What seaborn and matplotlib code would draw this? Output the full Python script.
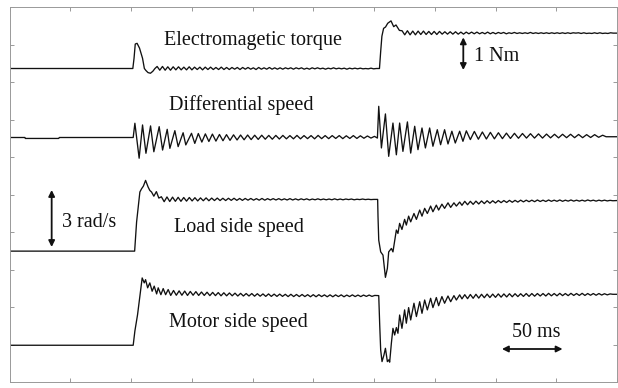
import numpy as np
import pandas as pd
import matplotlib
matplotlib.use("Agg")
import matplotlib.pyplot as plt
import seaborn as sns

# ---------------- data (time in ms, torque in Nm, speeds in rad/s) ----------------
# Electromagnetic torque
torque_t_a = [0.0, 101.5, 102.5, 103.5, 105.0, 107.0, 109.5, 111.0, 112.3, 114.0, 116.0, 118.0, 119.7]
torque_v_a = [0.0, 0.0, 0.30, 0.72, 0.74, 0.60, 0.30, 0.0, -0.06, -0.12, -0.14, -0.08, 0.0]
torque_rip1_start, torque_rip1_step, torque_rip1_level = 121.5, 2.2, 0.0
torque_rip1 = [0.06, -0.05, 0.06, -0.05, 0.05, -0.05, 0.05, -0.04, 0.05, -0.04, 0.04, -0.04, 0.05, -0.04, 0.04, -0.03, 0.04, -0.04, 0.04, -0.03,
               0.04, -0.03, 0.03, -0.03, 0.04, -0.03, 0.03, -0.03, 0.03, -0.02, 0.03, -0.03, 0.03, -0.02, 0.03, -0.02, 0.02, -0.03, 0.03, -0.02,
               0.02, -0.02, 0.03, -0.02, 0.02, -0.02, 0.02, -0.02, 0.02, -0.01, 0.02, -0.02, 0.02, -0.01, 0.02, -0.02, 0.01, -0.02, 0.02, -0.01,
               0.02, -0.01, 0.01, -0.02, 0.01, -0.01, 0.02, -0.01, 0.01, -0.01, 0.01, -0.02, 0.01, -0.01, 0.01, -0.01, 0.01, -0.01, 0.0, -0.01, 0.01, -0.01, 0.0]
torque_t_b = [303.5, 304.5, 305.5, 306.5, 307.9, 309.5, 311.3, 314.0, 316.2, 318.1, 320.9]
torque_v_b = [0.0, 0.0, 0.50, 0.95, 1.18, 1.22, 1.33, 1.40, 1.23, 1.28, 1.12]
torque_rip2_start, torque_rip2_step, torque_rip2_level = 323.1, 2.2, 1.04
torque_rip2 = [0.07, -0.05, 0.07, -0.05, 0.06, -0.05, 0.06, -0.04, 0.06, -0.04, 0.05, -0.04, 0.05, -0.04, 0.05, -0.03, 0.04, -0.03, 0.04, -0.03,
               0.04, -0.03, 0.03, -0.03, 0.03, -0.02, 0.03, -0.02, 0.03, -0.02, 0.02, -0.02, 0.03, -0.02, 0.02, -0.02, 0.02, -0.01, 0.02, -0.02,
               0.01, -0.01, 0.02, -0.01, 0.01, -0.01, 0.01, -0.01, 0.02, -0.01, 0.01, -0.01, 0.01, -0.01, 0.01, -0.01, 0.01, -0.01, 0.01, -0.01,
               0.01, -0.01, 0.01, -0.01, 0.01, 0.0, 0.01, -0.01, 0.01, -0.01, 0.0, -0.01, 0.01, -0.01, 0.01, -0.01, 0.0, -0.01, 0.01, 0.0]
torque_t_end, torque_v_end = [500.0], [1.04]

# Differential speed
diff_t_a = [0.0, 12.7, 13.0, 40.5, 41.0, 101.8, 103.2, 106.7, 109.5, 112.3, 116.1, 118.8, 123.2, 126.0, 129.8, 132.0,
            136.1, 138.8, 142.9, 145.1, 149.8, 152.5]
diff_v_a = [0.0, 0.0, -0.05, -0.05, 0.0, 0.0, 0.75, -1.09, 0.66, -0.83, 0.61, -0.75, 0.57, -0.66, 0.43, -0.57,
            0.36, -0.48, 0.25, -0.39, 0.22, -0.31]
diff_rip1_start, diff_rip1_step, diff_rip1_level = 155.4, 2.9, 0.03
diff_rip1 = [0.18, -0.27, 0.16, -0.24, 0.15, -0.22, 0.13, -0.20, 0.12, -0.18, 0.11, -0.16, 0.10, -0.15, 0.10, -0.14, 0.09, -0.13, 0.09, -0.12,
             0.08, -0.12, 0.08, -0.11, 0.08, -0.10, 0.07, -0.10, 0.08, -0.10, 0.07, -0.09, 0.07, -0.10, 0.08, -0.09, 0.07, -0.09, 0.07, -0.08,
             0.07, -0.09, 0.06, -0.08, 0.07, -0.08, 0.06, -0.07, 0.05, -0.06, 0.03]
diff_t_b = [302.0, 302.8, 303.9, 306.1, 309.4, 312.1, 315.6, 318.4, 321.1, 323.8, 327.5, 330.2, 333.5, 336.2, 339.5, 342.3,
            345.8, 348.5, 352.1, 354.8, 358.1, 360.9, 364.1, 366.9, 370.5, 373.2]
diff_v_b = [0.0, -0.03, 1.64, -0.55, 1.24, -0.99, 0.76, -0.91, 0.76, -0.73, 0.82, -0.82, 0.59, -0.64, 0.50, -0.55,
            0.50, -0.46, 0.41, -0.38, 0.41, -0.34, 0.33, -0.29, 0.33, -0.20]
diff_rip2_start, diff_rip2_step, diff_rip2_level = 376.0, 3.3, 0.07
diff_rip2 = [0.28, -0.18, 0.25, -0.16, 0.22, -0.15, 0.20, -0.14, 0.18, -0.13, 0.16, -0.12, 0.15, -0.11, 0.14, -0.10, 0.13, -0.10, 0.12, -0.10,
             0.11, -0.09, 0.10, -0.09, 0.10, -0.08, 0.10, -0.08, 0.09, -0.08, 0.08, -0.07, 0.08, -0.06, 0.05]
diff_t_end, diff_v_end = [491.0, 500.0], [0.04, 0.04]

# Load side speed
load_t_a = [0.0, 103.0, 104.6, 107.3, 108.7, 110.2, 112.0, 114.1, 115.5, 116.9, 118.8, 120.9, 122.9]
load_v_a = [0.0, 0.0, 1.53, 3.11, 3.28, 3.42, 3.72, 3.37, 3.19, 3.11, 2.89, 3.13, 2.79]
load_rip1_start, load_rip1_step, load_rip1_level = 125.0, 2.3, 2.72
load_rip1 = [0.14, -0.12, 0.13, -0.11, 0.12, -0.10, 0.11, -0.10, 0.10, -0.09, 0.10, -0.08, 0.09, -0.08, 0.08, -0.07, 0.08, -0.07, 0.07, -0.06,
             0.07, -0.06, 0.06, -0.06, 0.06, -0.05, 0.06, -0.05, 0.05, -0.05, 0.05, -0.04, 0.05, -0.04, 0.04, -0.04, 0.05, -0.04, 0.04, -0.03,
             0.04, -0.03, 0.04, -0.03, 0.03, -0.03, 0.04, -0.03, 0.03, -0.03, 0.03, -0.02, 0.03, -0.03, 0.02, -0.02, 0.03, -0.02, 0.02, -0.02,
             0.02, -0.02, 0.03, -0.02, 0.02, -0.02, 0.02, -0.01, 0.02, -0.02, 0.01, -0.01, 0.02, -0.01, 0.01, -0.01, 0.0]
load_t_b = [303.0, 303.3, 303.9, 305.5, 307.4, 309.4, 311.0, 312.1, 314.3, 315.6, 318.4, 319.7, 321.1, 323.0, 325.2, 326.6,
            328.5, 330.2, 332.9, 334.9, 337.6, 339.5, 341.7, 343.9, 346.6, 348.5, 351.3, 353.2, 355.9, 358.1, 360.9, 363.1,
            365.8, 367.8, 370.5, 372.4]
load_v_b = [2.72, 1.81, 0.58, -0.04, -0.21, -1.38, -0.91, -0.04, 0.14, -0.04, 1.11, 0.93, 1.46, 1.14, 1.67, 1.37,
            1.84, 1.54, 1.98, 1.67, 2.16, 1.84, 2.25, 1.98, 2.37, 2.07, 2.42, 2.16, 2.47, 2.25, 2.54, 2.30,
            2.54, 2.37, 2.58, 2.41]
load_rip2_start, load_rip2_step, load_rip2_level = 374.7, 2.3, 0.0
load_rip2 = [2.62, 2.44, 2.62, 2.46, 2.63, 2.48, 2.64, 2.50, 2.65, 2.52, 2.65, 2.53, 2.66, 2.55, 2.66, 2.56, 2.67, 2.57, 2.67, 2.58,
             2.68, 2.59, 2.68, 2.60, 2.68, 2.60, 2.69, 2.61, 2.68, 2.61, 2.69, 2.62, 2.68, 2.62, 2.69, 2.62, 2.68, 2.63, 2.69, 2.63,
             2.68, 2.63, 2.68, 2.63, 2.69, 2.64, 2.68, 2.63, 2.68, 2.64, 2.68, 2.64, 2.67, 2.65]
load_t_end, load_v_end = [500.0], [2.66]

# Motor side speed
motor_t_a = [0.0, 101.8, 103.2, 105.4, 107.3, 109.2, 110.9, 112.0, 113.7, 115.5, 117.4, 119.1, 121.1, 122.4, 124.6, 126.5, 128.5, 130.6]
motor_v_a = [0.0, 0.0, 0.75, 1.61, 2.58, 3.54, 3.28, 3.45, 3.02, 3.28, 2.84, 3.11, 2.70, 3.02, 2.66, 2.98, 2.66, 2.93]
motor_rip1_start, motor_rip1_step, motor_rip1_level = 132.7, 2.3, 0.0
motor_rip1 = [2.62, 2.88, 2.63, 2.86, 2.63, 2.85, 2.62, 2.83, 2.63, 2.82, 2.62, 2.80, 2.62, 2.79, 2.61, 2.78, 2.61, 2.77, 2.60, 2.76,
              2.60, 2.75, 2.60, 2.74, 2.59, 2.73, 2.59, 2.72, 2.59, 2.72, 2.58, 2.71, 2.58, 2.70, 2.57, 2.70, 2.57, 2.69, 2.57, 2.69,
              2.57, 2.68, 2.56, 2.68, 2.56, 2.67, 2.56, 2.67, 2.56, 2.66, 2.55, 2.66, 2.55, 2.66, 2.56, 2.65, 2.55, 2.65, 2.55, 2.65,
              2.56, 2.65, 2.55, 2.64, 2.56, 2.65, 2.56, 2.64, 2.56, 2.64, 2.57, 2.64, 2.57, 2.62]
motor_t_b = [303.9, 304.7, 305.5, 306.6, 308.2, 309.4, 311.0, 312.1, 312.9, 314.3, 315.6, 317.0, 318.4, 319.7, 321.1, 323.0,
             325.2, 326.6, 328.5, 330.2, 332.9, 334.9, 337.6, 339.5, 341.7, 343.9, 346.6, 348.5, 351.3, 353.2, 355.9, 358.1,
             360.9, 363.1, 365.8, 367.8, 370.5, 372.4]
motor_v_b = [2.61, 1.07, -0.25, -0.86, -0.51, -0.16, -0.86, -0.77, -0.89, 0.11, 0.89, 0.54, 0.93, 0.63, 1.59, 0.89,
             1.86, 1.16, 1.98, 1.33, 2.21, 1.51, 2.29, 1.68, 2.38, 1.86, 2.47, 1.98, 2.51, 2.08, 2.56, 2.21,
             2.59, 2.29, 2.61, 2.38, 2.65, 2.44]
motor_rip2_start, motor_rip2_step, motor_rip2_level = 374.7, 2.3, 0.0
motor_rip2 = [2.66, 2.45, 2.67, 2.47, 2.68, 2.48, 2.68, 2.50, 2.69, 2.51, 2.69, 2.52, 2.70, 2.53, 2.70, 2.54, 2.71, 2.55, 2.71, 2.56,
              2.71, 2.57, 2.72, 2.57, 2.72, 2.58, 2.72, 2.59, 2.72, 2.59, 2.73, 2.60, 2.72, 2.60, 2.73, 2.61, 2.72, 2.61, 2.73, 2.62,
              2.72, 2.62, 2.73, 2.62, 2.72, 2.63, 2.72, 2.63, 2.72, 2.64, 2.71, 2.65, 2.70, 2.68]
motor_t_end, motor_v_end = [500.0], [2.68]

trace_names = ["Electromagetic torque", "Differential speed", "Load side speed", "Motor side speed"]

# ---------------- display settings (channel position and gain, in screen divisions) ----------------
channel_offset = {"Electromagetic torque": 8.36, "Differential speed": 6.52,
                  "Load side speed": 3.49, "Motor side speed": 0.98}
channel_gain = {"Electromagetic torque": 0.907, "Differential speed": 0.507,
                "Load side speed": 0.507, "Motor side speed": 0.507}


def ripple(start, step, level, vals):
    t = start + step * np.arange(len(vals))
    return list(t), [level + v for v in vals]


def assemble(parts):
    ts, vs = [], []
    for t, v in parts:
        ts += list(t)
        vs += list(v)
    return ts, vs


series = {
    "Electromagetic torque": assemble([
        (torque_t_a, torque_v_a),
        ripple(torque_rip1_start, torque_rip1_step, torque_rip1_level, torque_rip1),
        (torque_t_b, torque_v_b),
        ripple(torque_rip2_start, torque_rip2_step, torque_rip2_level, torque_rip2),
        (torque_t_end, torque_v_end)]),
    "Differential speed": assemble([
        (diff_t_a, diff_v_a),
        ripple(diff_rip1_start, diff_rip1_step, diff_rip1_level, diff_rip1),
        (diff_t_b, diff_v_b),
        ripple(diff_rip2_start, diff_rip2_step, diff_rip2_level, diff_rip2),
        (diff_t_end, diff_v_end)]),
    "Load side speed": assemble([
        (load_t_a, load_v_a),
        ripple(load_rip1_start, load_rip1_step, load_rip1_level, load_rip1),
        (load_t_b, load_v_b),
        ripple(load_rip2_start, load_rip2_step, load_rip2_level, load_rip2),
        (load_t_end, load_v_end)]),
    "Motor side speed": assemble([
        (motor_t_a, motor_v_a),
        ripple(motor_rip1_start, motor_rip1_step, motor_rip1_level, motor_rip1),
        (motor_t_b, motor_v_b),
        ripple(motor_rip2_start, motor_rip2_step, motor_rip2_level, motor_rip2),
        (motor_t_end, motor_v_end)]),
}

frames = []
for name in trace_names:
    t, v = series[name]
    v = np.asarray(v)
    frames.append(pd.DataFrame({"time": t, "value": v,
                                "screen": channel_offset[name] + channel_gain[name] * v,
                                "trace": name}))
df = pd.concat(frames, ignore_index=True)

# ---------------- plot ----------------
sns.set_theme(style="white")
plt.rcParams["font.family"] = ["Liberation Serif", "DejaVu Serif"]

fig = plt.figure(figsize=(6.18, 3.88), dpi=100)
ax = fig.add_axes([9.5 / 618, 6 / 388, 607.5 / 618, 375 / 388])

sns.lineplot(data=df, x="time", y="screen", hue="trace", units="trace", estimator=None,
             palette=["#111111"] * 4, legend=False, linewidth=0.95, ax=ax, sort=False)

ax.set_xlim(0, 500)
ax.set_ylim(0, 10)
ax.set_xticks(np.arange(0, 501, 50))
ax.set_yticks(np.arange(0, 11, 1))
ax.set_xticklabels([])
ax.set_yticklabels([])
ax.set_xlabel("")
ax.set_ylabel("")
ax.tick_params(direction="in", length=3, width=0.7, color="#999999",
               top=True, right=True, bottom=True, left=True)
for sp in ax.spines.values():
    sp.set_linestyle((0, (1, 1)))
    sp.set_color("#999999")
    sp.set_linewidth(0.7)

fs = 14.5
ax.text(200.2, 9.12, "Electromagetic torque", fontsize=fs, ha="center", va="center", color="#111111")
ax.text(401.0, 8.67, "1 Nm", fontsize=fs, ha="center", va="center", color="#111111")
ax.text(190.4, 7.39, "Differential speed", fontsize=fs, ha="center", va="center", color="#111111")
ax.text(65.4, 4.26, "3 rad/s", fontsize=fs, ha="center", va="center", color="#111111")
ax.text(188.7, 4.12, "Load side speed", fontsize=fs, ha="center", va="center", color="#111111")
ax.text(188.7, 1.59, "Motor side speed", fontsize=fs, ha="center", va="center", color="#111111")
ax.text(433.4, 1.32, "50 ms", fontsize=fs, ha="center", va="center", color="#111111")

arrow = dict(arrowstyle="<|-|>", color="#111111", lw=1.3, mutation_scale=9, shrinkA=0, shrinkB=0)
ax.annotate("", xy=(373.5, 9.19), xytext=(373.5, 8.32), arrowprops=arrow)
ax.annotate("", xy=(34.7, 5.12), xytext=(34.7, 3.60), arrowprops=arrow)
ax.annotate("", xy=(405.3, 0.88), xytext=(455.2, 0.88), arrowprops=arrow)

fig.savefig("out.png", dpi=100)
